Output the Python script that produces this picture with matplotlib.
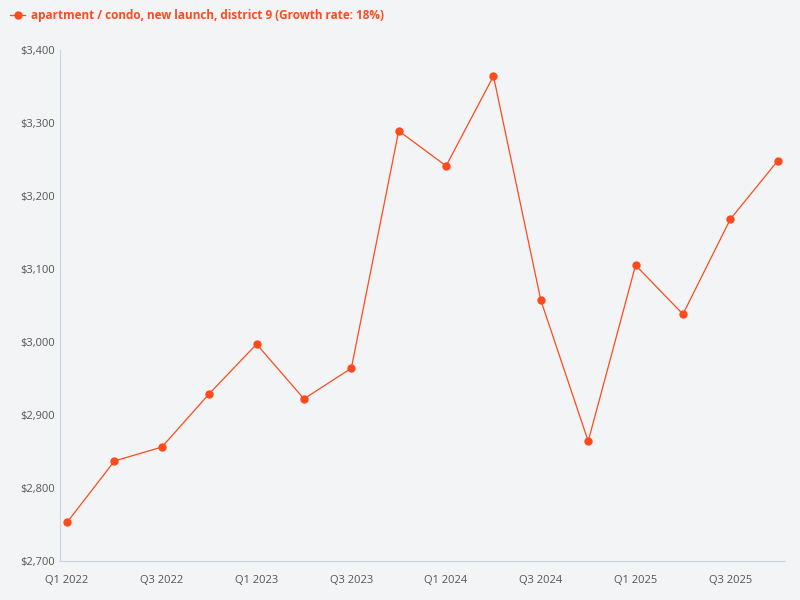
import matplotlib.pyplot as plt
from matplotlib.ticker import FuncFormatter

quarters = ["Q1 2022", "Q2 2022", "Q3 2022", "Q4 2022",
            "Q1 2023", "Q2 2023", "Q3 2023", "Q4 2023",
            "Q1 2024", "Q2 2024", "Q3 2024", "Q4 2024",
            "Q1 2025", "Q2 2025", "Q3 2025", "Q4 2025"]
prices = [2753, 2837, 2856, 2929, 2997, 2922, 2964, 3289,
          3241, 3364, 3057, 2864, 3105, 3038, 3168, 3248]
series_name = "apartment / condo, new launch, district 9 (Growth rate: 18%)"

plt.rcParams['font.family'] = ['Open Sans', 'DejaVu Sans']
bg = '#f3f4f6'
color = '#ff4a1c'

fig = plt.figure(figsize=(8, 6), dpi=100, facecolor=bg)
ax = fig.add_axes([0.075, 0.065, 0.906, 0.852], facecolor=bg)

x = list(range(len(quarters)))
ax.plot(x, prices, color=color, linewidth=0.9, marker='o', markersize=5)

ax.set_ylim(2700, 3400)
ax.set_xlim(-0.15, 15.15)
ax.set_yticks(range(2700, 3401, 100))
ax.yaxis.set_major_formatter(FuncFormatter(lambda v, p: f"${v:,.0f}"))
ax.set_xticks(x[::2])
ax.set_xticklabels(quarters[::2])
ax.tick_params(axis='x', pad=10)
ax.tick_params(length=0, labelsize=8, colors='#555555')
for s in ['top', 'right']:
    ax.spines[s].set_visible(False)
ax.spines['left'].set_color('#c8d4e3')
ax.spines['bottom'].set_color('#c8d4e3')

ax.legend([ax.lines[0]], [series_name], loc='upper left', bbox_to_anchor=(-0.083, 1.1),
          frameon=False, handlelength=1.2, handletextpad=0.5,
          prop={'weight': 'bold', 'size': 8.5}, labelcolor=color)

fig.savefig('out.png', facecolor=bg)
